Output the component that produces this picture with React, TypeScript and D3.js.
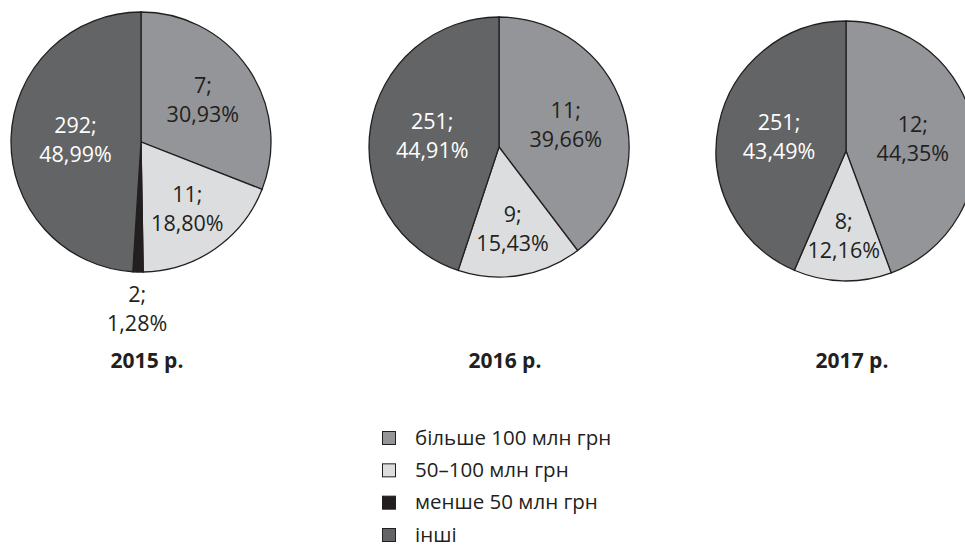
import React, { useRef, useEffect } from 'react';
import * as d3 from 'd3';

const categories = ['більше 100 млн грн', '50–100 млн грн', 'менше 50 млн грн', 'інші'];
const years = ['2015 р.', '2016 р.', '2017 р.'];

// number of banks per group, by year
const counts2015 = [7, 11, 2, 292];
const counts2016 = [11, 9, 0, 251];
const counts2017 = [12, 8, 0, 251];

// share of the total, %
const shares2015 = [30.93, 18.8, 1.28, 48.99];
const shares2016 = [39.66, 15.43, 0, 44.91];
const shares2017 = [44.35, 12.16, 0, 43.49];

const colors = ['#939598', '#dcdddf', '#231f20', '#636466'];
const labelColors = ['#231f20', '#231f20', '#231f20', '#ffffff'];

const W = 965;
const H = 546;
const R = 130;
const FONT = '"Open Sans", "Noto Sans", sans-serif';

const App = () => {
  const svgRef = useRef<SVGSVGElement | null>(null);

  useEffect(() => {
    const svg = d3.select(svgRef.current);
    svg.selectAll('*').remove();

    const pies = [
      { counts: counts2015, shares: shares2015 },
      { counts: counts2016, shares: shares2016 },
      { counts: counts2017, shares: shares2017 },
    ];

    // pie centres
    const x = d3.scaleOrdinal<string, number>().domain(years).range([141, 499, 846]);
    const y = d3.scaleOrdinal<string, number>().domain(years).range([142, 147, 151]);

    const pie = d3
      .pie<number>()
      .sort(null)
      .value(d => d);

    const arc = d3.arc<d3.PieArcDatum<number>>().innerRadius(0).outerRadius(R);

    // narrower slices push their label further out, like a "best fit" placement
    const labelPos = (d: d3.PieArcDatum<number>) => {
      const rr = d.value < 5 ? R + 37 : R * (0.5 + 0.2 * (1 - d.value / 50));
      return d3.arc<d3.PieArcDatum<number>>().innerRadius(rr).outerRadius(rr).centroid(d);
    };

    const fmt = (v: number) => v.toFixed(2).replace('.', ',') + '%';

    pies.forEach((p, pi) => {
      const year = years[pi];
      const g = svg
        .append('g')
        .attr('transform', `translate(${x(year)},${y(year)})`);

      const arcs = pie(p.shares);

      g.selectAll('path')
        .data(arcs.filter(d => d.value > 0))
        .enter()
        .append('path')
        .attr('d', arc)
        .attr('fill', d => colors[d.index])
        .attr('stroke', '#231f20')
        .attr('stroke-width', 1.3);

      const labels = g
        .selectAll('text.lbl')
        .data(arcs.filter(d => d.value > 0))
        .enter()
        .append('text')
        .attr('class', 'lbl')
        .attr('text-anchor', 'middle')
        .style('font-family', FONT)
        .style('font-size', '21.5px')
        .attr('fill', d => (d.value < 5 ? '#231f20' : labelColors[d.index]))
        .attr('transform', d => {
          const [lx, ly] = labelPos(d);
          return `translate(${lx},${ly})`;
        });

      labels
        .append('tspan')
        .attr('x', 0)
        .attr('y', -7)
        .text(d => `${p.counts[d.index]};`);
      labels
        .append('tspan')
        .attr('x', 0)
        .attr('y', 22)
        .text(d => fmt(d.value));

      svg
        .append('text')
        .attr('x', x(year) + 6)
        .attr('y', 368)
        .attr('text-anchor', 'middle')
        .style('font-family', FONT)
        .style('font-size', '21px')
        .style('font-weight', 'bold')
        .attr('fill', '#231f20')
        .text(year);
    });

    // legend
    const ly = d3.scalePoint<string>().domain(categories).range([431, 528]);
    const legend = svg
      .selectAll('g.legend')
      .data(categories)
      .enter()
      .append('g')
      .attr('class', 'legend')
      .attr('transform', d => `translate(382,${ly(d)})`);

    legend
      .append('rect')
      .attr('x', 0.5)
      .attr('y', 0.5)
      .attr('width', 13)
      .attr('height', 13)
      .attr('fill', (d, i) => colors[i])
      .attr('stroke', '#231f20')
      .attr('stroke-width', 1);

    legend
      .append('text')
      .attr('x', 33)
      .attr('y', 13.5)
      .style('font-family', FONT)
      .style('font-size', '20.5px')
      .attr('fill', '#231f20')
      .text(d => d);
  }, []);

  return (
    <svg
      ref={svgRef}
      width={W}
      height={H}
      style={{ position: 'absolute', left: 0, top: 0, background: '#ffffff' }}
    ></svg>
  );
};

export default App;
